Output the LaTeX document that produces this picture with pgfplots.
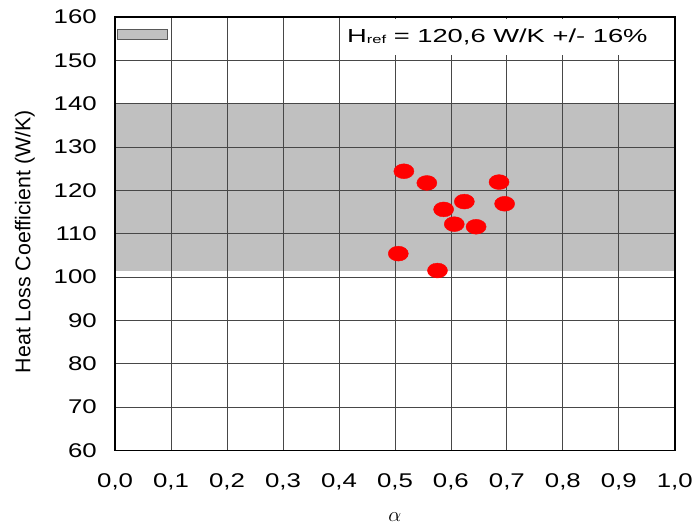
\documentclass[border=0pt]{standalone}
\usepackage{pgfplots}
\pgfplotsset{compat=1.18}
\usepackage{fontspec}
\setmainfont{Liberation Sans}
\definecolor{bandgray}{RGB}{192,192,192}
\begin{document}
\begin{tikzpicture}
\begin{axis}[
  set layers,
  scale only axis, width=564pt, height=437pt,
  xmin=0, xmax=1, ymin=60, ymax=160,
  xtick={0,0.1,0.2,0.3,0.4,0.5,0.6,0.7,0.8,0.9,1},
  ytick={60,70,80,90,100,110,120,130,140,150,160},
  grid=major, major grid style={black!72, line width=0.8pt},
  axis line style={line width=1.8pt},
  major tick length=0pt,
  /pgf/number format/assume math mode=true,
  xticklabel={\scalebox{1.3}[1]{\pgfmathprintnumber[fixed,fixed zerofill,precision=1,use comma]{\tick}}},
  yticklabel={\scalebox{1.3}[1]{\pgfmathprintnumber{\tick}}},
  xticklabel style={font=\fontsize{20}{20}\selectfont, anchor=north, yshift=-20pt},
  yticklabel style={font=\fontsize{20}{20}\selectfont, anchor=east, xshift=-15pt},
  xlabel={$\alpha$},
  ylabel={Heat Loss Coefficient (W/K)},
  every axis x label/.style={at={(axis description cs:0.5,0)}, anchor=center, yshift=-67pt, font=\fontsize{22}{22}\selectfont},
  every axis y label/.style={at={(axis description cs:0,0.5)}, rotate=90, anchor=center, yshift=91pt, xshift=-8pt, font=\fontsize{21.5}{21.5}\selectfont},
]
\addplot[on layer=axis background, fill=bandgray, draw=none] coordinates {(0,101.3) (1,101.3) (1,139.9) (0,139.9)} -- cycle;
\addplot[only marks, mark=*, mark size=7.5pt, color=red, mark options={xscale=1.35, fill=red, draw=red}] coordinates {
(0.516,124.4) (0.557,121.7) (0.686,121.9) (0.587,115.6) (0.624,117.4)
(0.696,116.9) (0.606,112.2) (0.645,111.6) (0.506,105.4) (0.576,101.5)
};
\fill[white] (axis cs:0.4025,151.2) rectangle (axis cs:0.996,159.6);
\draw[fill=bandgray, draw=black!65, line width=0.8pt] (axis cs:0.004,154.8) rectangle (axis cs:0.094,157.2);
\node[anchor=center, font=\fontsize{19}{19}\selectfont, inner sep=0pt] at (axis cs:0.683,155.5) {\scalebox{1.45}[1]{H\raisebox{-1.5pt}{\fontsize{11.5}{11.5}\selectfont ref} = 120,6 W/K +/- 16\%}};
\end{axis}
\path (current axis.south west) ++(-116pt,-76pt) rectangle ([shift={(18pt,17pt)}]current axis.north east);
\end{tikzpicture}
\end{document}
